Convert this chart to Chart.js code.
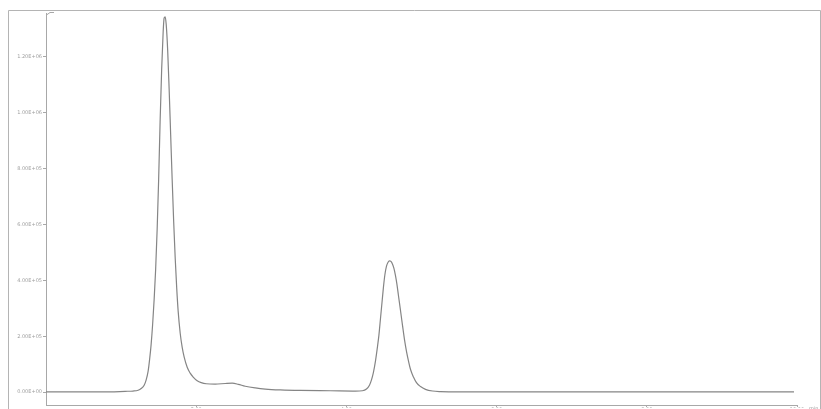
<!DOCTYPE html>
<html>
<head>
<meta charset="utf-8">
<script src="https://cdn.jsdelivr.net/npm/chart.js@4.4.1/dist/chart.umd.min.js"></script>
<style>
  html, body { margin: 0; padding: 0; background: #ffffff; }
  #wrap { width: 821px; height: 409px; }
</style>
</head>
<body>
<div id="wrap"><canvas id="chrom" width="821" height="409"></canvas></div>
<script>
// Retention time (min)
const times = [
  0.000, 0.453, 0.853, 1.053, 1.160, 1.227, 1.267, 1.307, 1.333, 1.360,
  1.380, 1.400, 1.420, 1.440, 1.460, 1.480, 1.500, 1.520, 1.540, 1.560,
  1.573, 1.587, 1.600, 1.620, 1.640, 1.660, 1.680, 1.700, 1.720, 1.740,
  1.760, 1.787, 1.813, 1.840, 1.880, 1.920, 1.960, 2.013, 2.067, 2.133,
  2.253, 2.387, 2.480, 2.560, 2.653, 2.787, 2.920, 3.120, 3.387, 3.787,
  4.120, 4.213, 4.267, 4.307, 4.333, 4.360, 4.387, 4.413, 4.433, 4.453,
  4.473, 4.493, 4.513, 4.533, 4.553, 4.573, 4.593, 4.613, 4.633, 4.653,
  4.673, 4.693, 4.720, 4.747, 4.773, 4.800, 4.827, 4.853, 4.893, 4.933,
  4.987, 5.053, 5.147, 5.253, 5.520, 6.720, 8.053, 9.960
];

// Detector response (x 1E+06)
const signal = [
  0.001, 0.001, 0.001, 0.003, 0.004, 0.007, 0.013, 0.025, 0.043, 0.075,
  0.118, 0.171, 0.243, 0.332, 0.439, 0.582, 0.761, 0.975, 1.154, 1.289,
  1.339, 1.343, 1.318, 1.225, 1.082, 0.921, 0.761, 0.611, 0.482, 0.375,
  0.289, 0.211, 0.161, 0.125, 0.089, 0.068, 0.054, 0.041, 0.034, 0.030,
  0.029, 0.031, 0.032, 0.028, 0.021, 0.015, 0.011, 0.008, 0.006, 0.005,
  0.004, 0.005, 0.011, 0.025, 0.043, 0.071, 0.111, 0.161, 0.204, 0.261,
  0.318, 0.375, 0.421, 0.450, 0.464, 0.470, 0.468, 0.459, 0.443, 0.418,
  0.386, 0.346, 0.293, 0.239, 0.189, 0.146, 0.111, 0.082, 0.054, 0.034,
  0.020, 0.010, 0.004, 0.002, 0.001, 0.001, 0.001, 0.001
];

// Axis ticks
const yTickValues = [0, 0.2, 0.4, 0.6, 0.8, 1.0, 1.2];
const yTickLabels = ['0.00E+00', '2.00E+05', '4.00E+05', '6.00E+05', '8.00E+05', '1.00E+06', '1.20E+06'];
const xTickValues = [2, 4, 6, 8, 10];
const xTickLabels = ['2.00', '4.00', '6.00', '8.00', '10.00'];
const xUnit = 'min';

const points = times.map((t, i) => ({ x: t, y: signal[i] }));

// Outer frame, axis cap and unit text
const framePlugin = {
  id: 'frame',
  beforeDraw(chart) {
    const ctx = chart.ctx;
    ctx.save();
    ctx.fillStyle = '#ffffff';
    ctx.fillRect(0, 0, chart.width, chart.height);
    ctx.strokeStyle = '#b4b4b4';
    ctx.lineWidth = 1;
    ctx.beginPath();
    ctx.moveTo(8.5, chart.height);
    ctx.lineTo(8.5, 10.5);
    ctx.lineTo(820.5, 10.5);
    ctx.lineTo(820.5, chart.height);
    ctx.stroke();
    ctx.restore();
  },
  afterDraw(chart) {
    const ctx = chart.ctx;
    const a = chart.chartArea;
    ctx.save();
    ctx.strokeStyle = '#a8a8a8';
    ctx.lineWidth = 1;
    ctx.beginPath();
    ctx.moveTo(a.left + 0.5, a.top + 2);
    ctx.lineTo(a.left + 4, a.top - 0.5);
    ctx.lineTo(a.left + 8, a.top - 0.5);
    ctx.stroke();
    ctx.fillStyle = '#a0a0a0';
    ctx.font = '5px "DejaVu Sans"';
    ctx.textAlign = 'left';
    ctx.textBaseline = 'top';
    ctx.fillText(xUnit, a.right + 12, a.bottom + 1);
    ctx.restore();
  }
};

new Chart(document.getElementById('chrom'), {
  type: 'line',
  data: {
    datasets: [{
      data: points,
      borderColor: '#858585',
      borderWidth: 1.2,
      pointRadius: 0,
      fill: false,
      cubicInterpolationMode: 'monotone'
    }]
  },
  options: {
    responsive: false,
    animation: false,
    events: [],
    layout: { padding: { left: 0, right: 24, top: 13, bottom: 0 } },
    plugins: { legend: { display: false }, tooltip: { enabled: false } },
    scales: {
      x: {
        type: 'linear',
        min: 0,
        max: 10,
        afterFit(scale) { scale.height = 3; },
        afterBuildTicks(scale) { scale.ticks = xTickValues.map(v => ({ value: v })); },
        border: { display: true, color: '#a8a8a8', width: 1 },
        grid: { drawOnChartArea: false, drawTicks: true, tickLength: 2, color: '#a8a8a8' },
        ticks: {
          padding: 0,
          color: '#a0a0a0',
          font: { family: 'DejaVu Sans', size: 5 },
          maxRotation: 0,
          autoSkip: false,
          callback(value) {
            const i = xTickValues.indexOf(value);
            return i >= 0 ? xTickLabels[i] : '';
          }
        }
      },
      y: {
        type: 'linear',
        min: -0.046,
        max: 1.357,
        afterFit(scale) { scale.width = 46; },
        afterBuildTicks(scale) { scale.ticks = yTickValues.map(v => ({ value: v })); },
        border: { display: true, color: '#a8a8a8', width: 1 },
        grid: { drawOnChartArea: false, drawTicks: true, tickLength: 3, color: '#a8a8a8' },
        ticks: {
          padding: 1,
          color: '#a0a0a0',
          font: { family: 'DejaVu Sans', size: 5 },
          autoSkip: false,
          callback(value) {
            const i = yTickValues.findIndex(v => Math.abs(v - value) < 1e-9);
            return i >= 0 ? yTickLabels[i] : '';
          }
        }
      }
    }
  },
  plugins: [framePlugin]
});
</script>
</body>
</html>
